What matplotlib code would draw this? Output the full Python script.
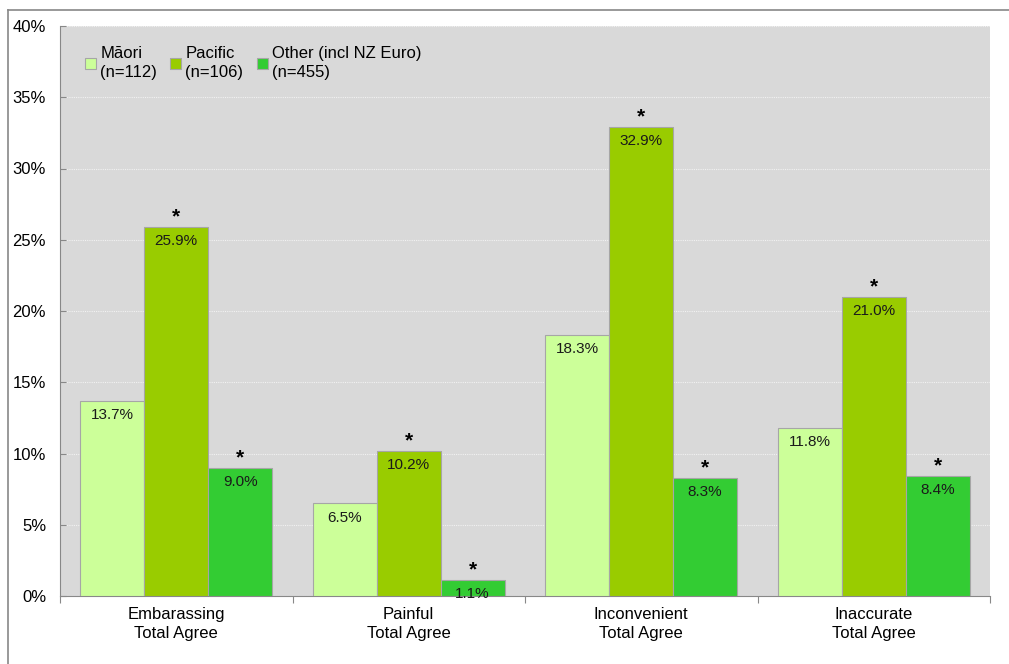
import numpy as np
import matplotlib.pyplot as plt
from matplotlib.lines import Line2D

plt.rcParams['font.family'] = ['Liberation Sans', 'DejaVu Sans']

categories = ['Embarassing\nTotal Agree', 'Painful\nTotal Agree',
              'Inconvenient\nTotal Agree', 'Inaccurate\nTotal Agree']
series_names = ['Māori\n(n=112)', 'Pacific\n(n=106)', 'Other (incl NZ Euro)\n(n=455)']
maori = [13.7, 6.5, 18.3, 11.8]
pacific = [25.9, 10.2, 32.9, 21.0]
other = [9.0, 1.1, 8.3, 8.4]
# significance markers per series
maori_sig = [False, False, False, False]
pacific_sig = [True, True, True, True]
other_sig = [True, True, True, True]

colors = ['#ccff99', '#99cc00', '#33cc33']

fig = plt.figure(figsize=(10.09, 6.64), dpi=100)
ax = fig.add_axes([60 / 1009, 1 - 596 / 664, 930 / 1009, 570 / 664])
ax.set_facecolor('#d9d9d9')

# outer chart frame (top and left edges)
fig.add_artist(Line2D([8 / 1009, 1.0], [1 - 10 / 664] * 2, color='#888888', lw=1.2))
fig.add_artist(Line2D([8 / 1009] * 2, [0, 1 - 10 / 664], color='#888888', lw=1.2))

x = np.arange(len(categories))
w = 0.275
for i, (vals, sig) in enumerate([(maori, maori_sig), (pacific, pacific_sig), (other, other_sig)]):
    pos = x + (i - 1) * w
    ax.bar(pos, vals, width=w, color=colors[i], edgecolor='#a6a6a6', linewidth=0.8,
           zorder=3, label=series_names[i])
    for p, v, s in zip(pos, vals, sig):
        ax.text(p, v - 0.5, f'{v:.1f}%', ha='center', va='top', fontsize=11,
                color='#1a1a1a', zorder=4)
        if s:
            ax.text(p, v + 0.05, '*', ha='center', va='bottom', fontsize=15,
                    fontweight='bold', color='black', zorder=4)

ax.set_xlim(-0.5, len(categories) - 0.5)
ax.set_ylim(0, 40)
ax.set_yticks(np.arange(0, 41, 5))
ax.set_yticklabels([f'{t}%' for t in range(0, 41, 5)], fontsize=12)
ax.yaxis.grid(True, color='#f2f2f2', linestyle=(0, (1, 1)), linewidth=0.8, zorder=0)
ax.set_xticks(np.arange(-0.5, len(categories)), minor=False)
ax.set_xticklabels([])
ax.set_xticks(x, minor=True)
ax.set_xticklabels(categories, minor=True, fontsize=12, linespacing=1.35)
ax.tick_params(axis='x', which='minor', length=0, pad=8)
ax.tick_params(axis='x', which='major', length=5, direction='out', color='#888888')
ax.tick_params(axis='y', length=4, direction='in', color='#888888', pad=10)

for side in ['top', 'right']:
    ax.spines[side].set_visible(False)
for side in ['left', 'bottom']:
    ax.spines[side].set_color('#888888')

leg = ax.legend(loc='upper left', bbox_to_anchor=(0.011, 0.992), ncol=3, frameon=False,
                fontsize=12, handlelength=0.65, handleheight=0.65, handletextpad=0.25,
                columnspacing=0.8)
for t in leg.get_texts():
    t.set_linespacing(1.4)

fig.savefig('out.png', dpi=100)
